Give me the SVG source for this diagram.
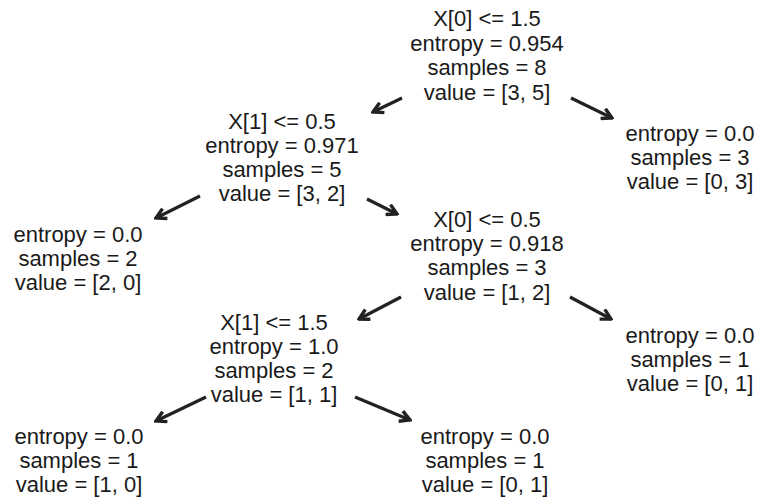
<svg xmlns="http://www.w3.org/2000/svg" width="762" height="498" viewBox="0 0 762 498">
<defs>
<style>
text{font-family:"Liberation Sans",Arial,sans-serif;font-size:22px;fill:#1a1a1a;text-anchor:middle}
.e{stroke:#222;stroke-width:3.2;fill:none}
</style>
<marker id="ah" viewBox="0 0 14 14" refX="12" refY="7" markerWidth="14" markerHeight="14" markerUnits="userSpaceOnUse" orient="auto">
<path d="M2,1.5 L12,7 L2,12.5" fill="none" stroke="#222" stroke-width="3.4" stroke-linejoin="miter"/>
</marker>
</defs>
<rect width="762" height="498" fill="#fff"/>
<g id="connectors">
<line class="e" x1="402" y1="98" x2="373" y2="112" marker-end="url(#ah)"/>
<line class="e" x1="571" y1="98" x2="612" y2="118" marker-end="url(#ah)"/>
<line class="e" x1="200" y1="196" x2="156" y2="218" marker-end="url(#ah)"/>
<line class="e" x1="367" y1="199" x2="397" y2="214" marker-end="url(#ah)"/>
<line class="e" x1="401" y1="297" x2="359" y2="319" marker-end="url(#ah)"/>
<line class="e" x1="570" y1="297" x2="611" y2="319" marker-end="url(#ah)"/>
<line class="e" x1="206" y1="397" x2="156" y2="421" marker-end="url(#ah)"/>
<line class="e" x1="355" y1="397" x2="410" y2="420" marker-end="url(#ah)"/>
</g>
<g id="n0"><text x="487" y="26">X[0] &lt;= 1.5</text><text x="487" y="51">entropy = 0.954</text><text x="487" y="75">samples = 8</text><text x="487" y="100">value = [3, 5]</text></g>
<g id="n1"><text x="282" y="129">X[1] &lt;= 0.5</text><text x="282" y="153">entropy = 0.971</text><text x="282" y="177">samples = 5</text><text x="282" y="201">value = [3, 2]</text></g>
<g id="n2"><text x="78" y="242">entropy = 0.0</text><text x="78" y="266">samples = 2</text><text x="78" y="290">value = [2, 0]</text></g>
<g id="n3"><text x="487" y="227">X[0] &lt;= 0.5</text><text x="487" y="251">entropy = 0.918</text><text x="487" y="275">samples = 3</text><text x="487" y="300">value = [1, 2]</text></g>
<g id="n4"><text x="274" y="330">X[1] &lt;= 1.5</text><text x="274" y="354">entropy = 1.0</text><text x="274" y="378">samples = 2</text><text x="274" y="402">value = [1, 1]</text></g>
<g id="n5"><text x="79" y="444">entropy = 0.0</text><text x="79" y="468">samples = 1</text><text x="79" y="492">value = [1, 0]</text></g>
<g id="n6"><text x="485" y="444">entropy = 0.0</text><text x="485" y="468">samples = 1</text><text x="485" y="492">value = [0, 1]</text></g>
<g id="n7"><text x="690" y="343">entropy = 0.0</text><text x="690" y="367">samples = 1</text><text x="690" y="391">value = [0, 1]</text></g>
<g id="n8"><text x="690" y="141">entropy = 0.0</text><text x="690" y="165">samples = 3</text><text x="690" y="189">value = [0, 3]</text></g>
</svg>
